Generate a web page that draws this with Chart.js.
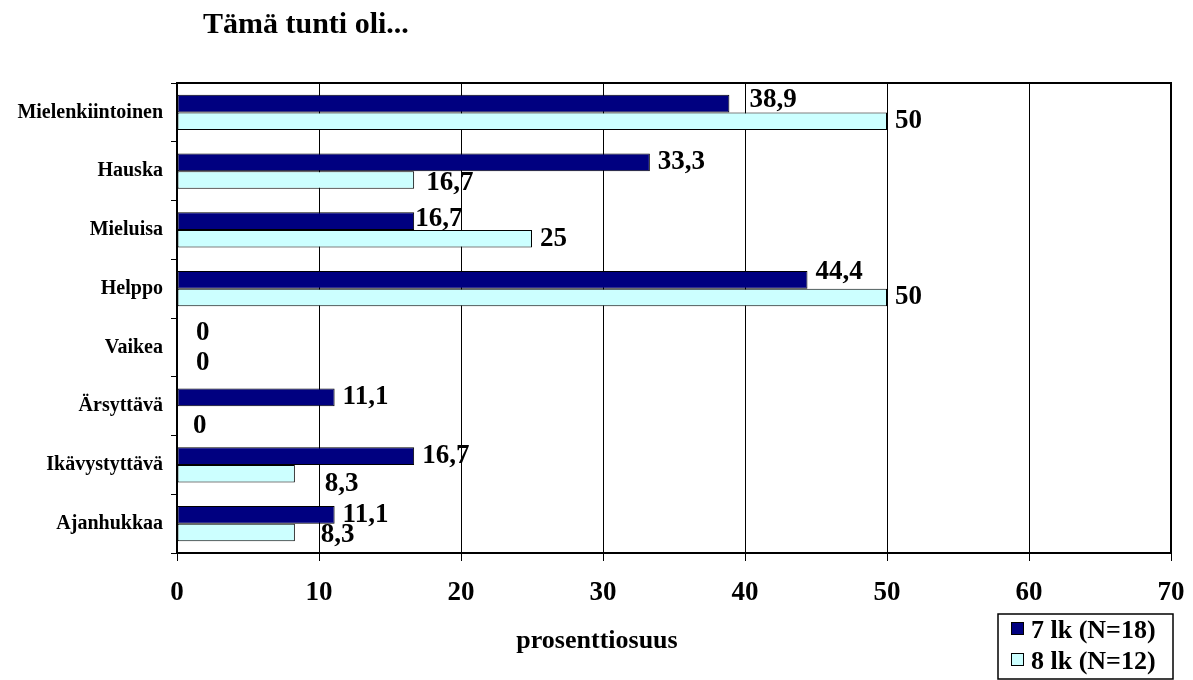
<!DOCTYPE html>
<html>
<head>
<meta charset="utf-8">
<title>Tämä tunti oli...</title>
<script src="https://cdn.jsdelivr.net/npm/chart.js@4.4.0/dist/chart.umd.min.js"></script>
<style>
  body { margin: 0; background: #fff; }
  #wrap { width: 1193px; height: 680px; }
</style>
</head>
<body>
<div id="wrap"><canvas id="tuntiChart" width="1193" height="680"></canvas></div>
<script>
const categories = ['Mielenkiintoinen', 'Hauska', 'Mieluisa', 'Helppo', 'Vaikea', 'Ärsyttävä', 'Ikävystyttävä', 'Ajanhukkaa'];
const lk7 = [38.9, 33.3, 16.7, 44.4, 0, 11.1, 16.7, 11.1];
const lk8 = [50, 16.7, 25, 50, 0, 0, 8.3, 8.3];
const seriesNames = ['7 lk (N=18)', '8 lk (N=12)'];
const xTicks = [0, 10, 20, 30, 40, 50, 60, 70];

const serif = "'Liberation Serif', 'Times New Roman', serif";
const navy = '#000080';
const cyan = '#CCFFFF';

// small shifts for value labels that sit off the bar end
const labelNudge = {
    '0-0': [12, -4], '0-2': [-7, -2], '0-3': [0, -8], '0-4': [11, -6],
    '1-1': [4, 3], '1-4': [11, 7], '1-5': [8, 11], '1-6': [22, 10], '1-7': [18, 3]
};

function fmt(v) {
    return String(v).replace('.', ',');
}

const decor = {
    id: 'decor',
    afterDatasetsDraw(chart) {
        const ctx = chart.ctx;
        const area = chart.chartArea;
        ctx.save();

        // frame top and right
        ctx.strokeStyle = '#000';
        ctx.lineWidth = 2;
        ctx.beginPath();
        ctx.moveTo(area.left, area.top);
        ctx.lineTo(area.right, area.top);
        ctx.lineTo(area.right, area.bottom);
        ctx.stroke();

        // value labels
        ctx.fillStyle = '#000';
        ctx.font = 'bold 27px ' + serif;
        ctx.textAlign = 'left';
        ctx.textBaseline = 'middle';
        chart.data.datasets.forEach((ds, di) => {
            const meta = chart.getDatasetMeta(di);
            meta.data.forEach((bar, i) => {
                const n = labelNudge[di + '-' + i] || [0, 0];
                ctx.fillText(fmt(ds.data[i]), bar.x + 8 + n[0], bar.y + n[1]);
            });
        });
        ctx.restore();
    },
    afterDraw(chart) {
        const ctx = chart.ctx;
        ctx.save();
        ctx.fillStyle = '#000';

        // title
        ctx.font = 'bold 30px ' + serif;
        ctx.textAlign = 'left';
        ctx.textBaseline = 'alphabetic';
        ctx.fillText('Tämä tunti oli...', 203, 33);

        // axis title
        ctx.font = 'bold 26px ' + serif;
        ctx.textAlign = 'center';
        ctx.fillText('prosenttiosuus', 597, 648);

        // legend box
        ctx.strokeStyle = '#000';
        ctx.lineWidth = 1.5;
        ctx.strokeRect(998, 614, 175, 65);
        ctx.font = 'bold 26px ' + serif;
        ctx.textAlign = 'left';
        const colors = [navy, cyan];
        seriesNames.forEach((name, k) => {
            const y = 622 + k * 31;
            ctx.fillStyle = colors[k];
            ctx.fillRect(1011, y, 13, 13);
            ctx.lineWidth = 1;
            ctx.strokeRect(1011.5, y + 0.5, 12, 12);
            ctx.fillStyle = '#000';
            ctx.fillText(name, 1031, y + 16);
        });
        ctx.restore();
    }
};

new Chart(document.getElementById('tuntiChart'), {
    type: 'bar',
    data: {
        labels: categories,
        datasets: [
            {
                label: seriesNames[0],
                data: lk7,
                backgroundColor: navy,
                borderColor: '#000',
                borderWidth: 1,
                borderSkipped: false
            },
            {
                label: seriesNames[1],
                data: lk8,
                backgroundColor: cyan,
                borderColor: '#000',
                borderWidth: 1,
                borderSkipped: false
            }
        ]
    },
    options: {
        indexAxis: 'y',
        responsive: false,
        animation: false,
        categoryPercentage: 0.6,
        barPercentage: 1.0,
        layout: { padding: { top: 83, right: 22, left: 0, bottom: 0 } },
        plugins: {
            legend: { display: false },
            tooltip: { enabled: false }
        },
        scales: {
            x: {
                min: xTicks[0],
                max: xTicks[xTicks.length - 1],
                afterBuildTicks: (scale) => {
                    scale.ticks = xTicks.map(v => ({ value: v }));
                },
                afterFit: (scale) => {
                    scale.height = 127;
                    scale.paddingLeft = 0;
                    scale.paddingRight = 0;
                },
                grid: { color: '#000', lineWidth: 1, tickLength: 8, drawTicks: true },
                border: { color: '#000', width: 2 },
                ticks: {
                    color: '#000',
                    padding: 16,
                    font: { family: serif, size: 27, weight: 'bold' }
                }
            },
            y: {
                afterFit: (scale) => { scale.width = 177; },
                grid: { offset: true, drawOnChartArea: false, color: '#000', tickLength: 6 },
                border: { color: '#000', width: 2 },
                ticks: {
                    color: '#000',
                    padding: 8,
                    font: { family: serif, size: 20, weight: 'bold' }
                }
            }
        }
    },
    plugins: [decor]
});
</script>
</body>
</html>
